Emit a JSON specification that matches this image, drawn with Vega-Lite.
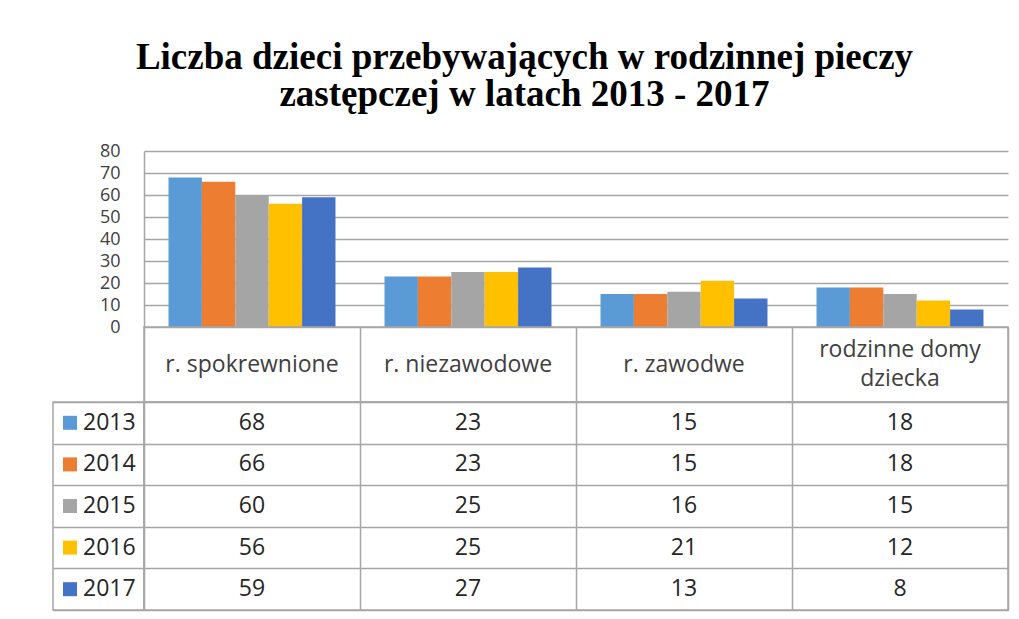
{
  "$schema": "https://vega.github.io/schema/vega-lite/v6.json",
  "padding": {"left": 52, "top": 39, "right": 12, "bottom": 8},
  "background": "white",
  "title": {
    "text": ["Liczba dzieci przebywających  w rodzinnej  pieczy", "zastępczej  w latach 2013 - 2017"],
    "font": "Liberation Serif",
    "fontSize": 37,
    "fontWeight": "bold",
    "color": "#000000",
    "lineHeight": 37,
    "anchor": "middle",
    "offset": 28,
    "dx": -6
  },
  "datasets": {
    "main": [
      {"category": "r. spokrewnione", "year": "2013", "value": 68},
      {"category": "r. niezawodowe", "year": "2013", "value": 23},
      {"category": "r. zawodwe", "year": "2013", "value": 15},
      {"category": "rodzinne domy\ndziecka", "year": "2013", "value": 18},
      {"category": "r. spokrewnione", "year": "2014", "value": 66},
      {"category": "r. niezawodowe", "year": "2014", "value": 23},
      {"category": "r. zawodwe", "year": "2014", "value": 15},
      {"category": "rodzinne domy\ndziecka", "year": "2014", "value": 18},
      {"category": "r. spokrewnione", "year": "2015", "value": 60},
      {"category": "r. niezawodowe", "year": "2015", "value": 25},
      {"category": "r. zawodwe", "year": "2015", "value": 16},
      {"category": "rodzinne domy\ndziecka", "year": "2015", "value": 15},
      {"category": "r. spokrewnione", "year": "2016", "value": 56},
      {"category": "r. niezawodowe", "year": "2016", "value": 25},
      {"category": "r. zawodwe", "year": "2016", "value": 21},
      {"category": "rodzinne domy\ndziecka", "year": "2016", "value": 12},
      {"category": "r. spokrewnione", "year": "2017", "value": 59},
      {"category": "r. niezawodowe", "year": "2017", "value": 27},
      {"category": "r. zawodwe", "year": "2017", "value": 13},
      {"category": "rodzinne domy\ndziecka", "year": "2017", "value": 8}
    ]
  },
  "columns": 2,
  "spacing": 0,
  "bounds": "flush",
  "config": {
    "view": {"stroke": null},
    "font": "Open Sans"
  },
  "concat": [
    {
      "width": 91, "height": 176,
      "data": {"values": [{"a": 1}]},
      "mark": {"type": "point", "opacity": 0},
      "encoding": {}
    },
    {
      "width": 864, "height": 176,
      "data": {"name": "main"},
      "mark": {"type": "bar"},
      "encoding": {
        "x": {
          "field": "category", "type": "nominal",
          "sort": ["r. spokrewnione", "r. niezawodowe", "r. zawodwe", "rodzinne domy\ndziecka"],
          "scale": {"paddingInner": 0.227, "paddingOuter": 0.1135},
          "axis": null
        },
        "xOffset": {
          "field": "year", "type": "nominal",
          "scale": {"paddingInner": 0, "paddingOuter": 0}
        },
        "y": {
          "field": "value", "type": "quantitative",
          "scale": {"domain": [0, 80], "nice": false},
          "axis": {
            "values": [0, 10, 20, 30, 40, 50, 60, 70, 80],
            "title": null,
            "ticks": false,
            "domainColor": "#a6a6a6",
            "domainWidth": 1.5,
            "gridColor": "#a6a6a6",
            "gridWidth": 1.5,
            "labelFontSize": 18,
            "labelColor": "#404040",
            "labelPadding": 24,
            "labelOverlap": false,
            "labelFlush": false
          }
        },
        "color": {
          "field": "year", "type": "nominal",
          "scale": {"domain": ["2013", "2014", "2015", "2016", "2017"], "range": ["#5b9bd5", "#ed7d31", "#a5a5a5", "#ffc000", "#4472c4"]},
          "legend": null
        }
      }
    },
    {
      "width": 91, "height": 75,
      "data": {"values": [{"a": 1}]},
      "mark": {"type": "point", "opacity": 0},
      "encoding": {}
    },
    {
      "width": 864, "height": 75,
      "data": {"name": "main"},
      "transform": [{"aggregate": [{"op": "count", "as": "n"}], "groupby": ["category"]}],
      "encoding": {
        "x": {
          "field": "category", "type": "nominal",
          "sort": ["r. spokrewnione", "r. niezawodowe", "r. zawodwe", "rodzinne domy\ndziecka"],
          "scale": {"paddingInner": 0, "paddingOuter": 0},
          "axis": {"grid": true, "tickBand": "extent", "labels": false, "ticks": false, "domain": false, "title": null, "gridColor": "#a6a6a6", "gridWidth": 1.5}
        },
        "text": {"field": "category", "type": "nominal"}
      },
      "layer": [
        {
          "transform": [{"filter": "indexof(datum.category, '\\n') < 0"}],
          "mark": {"type": "text", "fontSize": 23, "color": "#404040", "baseline": "middle"}
        },
        {
          "transform": [{"filter": "indexof(datum.category, '\\n') >= 0"}],
          "mark": {"type": "text", "fontSize": 23, "color": "#404040", "lineBreak": "\n", "lineHeight": 29, "baseline": "middle", "dy": -14.5}
        }
      ],
      "view": {"stroke": "#a6a6a6", "strokeWidth": 1.5}
    },
    {
      "width": 91, "height": 208,
      "data": {"name": "main"},
      "transform": [{"aggregate": [{"op": "count", "as": "n"}], "groupby": ["year"]}],
      "encoding": {
        "y": {
          "field": "year", "type": "nominal",
          "sort": ["2013", "2014", "2015", "2016", "2017"],
          "scale": {"paddingInner": 0, "paddingOuter": 0},
          "axis": {"grid": true, "tickBand": "extent", "labels": false, "ticks": false, "domain": false, "title": null, "gridColor": "#a6a6a6", "gridWidth": 1.5}
        }
      },
      "layer": [
        {
          "mark": {"type": "point", "shape": "square", "filled": true, "size": 196, "opacity": 1},
          "encoding": {
            "x": {"datum": 0.187, "type": "quantitative", "scale": {"domain": [0, 1]}, "axis": null},
            "color": {
              "field": "year", "type": "nominal",
              "scale": {"domain": ["2013", "2014", "2015", "2016", "2017"], "range": ["#5b9bd5", "#ed7d31", "#a5a5a5", "#ffc000", "#4472c4"]},
              "legend": null
            }
          }
        },
        {
          "mark": {"type": "text", "align": "left", "fontSize": 23, "color": "#262626", "baseline": "middle"},
          "encoding": {
            "x": {"datum": 0.33, "type": "quantitative", "axis": null},
            "text": {"field": "year", "type": "nominal"}
          }
        }
      ],
      "view": {"stroke": "#a6a6a6", "strokeWidth": 1.5}
    },
    {
      "width": 864, "height": 208,
      "data": {"name": "main"},
      "mark": {"type": "text", "fontSize": 23, "color": "#262626", "baseline": "middle"},
      "encoding": {
        "x": {
          "field": "category", "type": "nominal",
          "sort": ["r. spokrewnione", "r. niezawodowe", "r. zawodwe", "rodzinne domy\ndziecka"],
          "scale": {"paddingInner": 0, "paddingOuter": 0},
          "axis": {"grid": true, "tickBand": "extent", "labels": false, "ticks": false, "domain": false, "title": null, "gridColor": "#a6a6a6", "gridWidth": 1.5}
        },
        "y": {
          "field": "year", "type": "nominal",
          "sort": ["2013", "2014", "2015", "2016", "2017"],
          "scale": {"paddingInner": 0, "paddingOuter": 0},
          "axis": {"grid": true, "tickBand": "extent", "labels": false, "ticks": false, "domain": false, "title": null, "gridColor": "#a6a6a6", "gridWidth": 1.5}
        },
        "text": {"field": "value", "type": "quantitative"}
      },
      "view": {"stroke": "#a6a6a6", "strokeWidth": 1.5}
    }
  ]
}
